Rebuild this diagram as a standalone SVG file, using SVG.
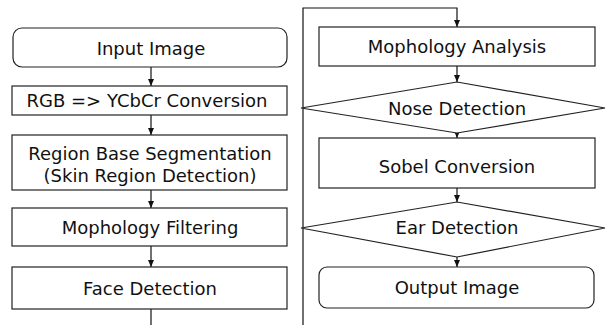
<svg xmlns="http://www.w3.org/2000/svg" width="610" height="325" viewBox="0 0 610 325">
<defs>
<marker id="ah" markerWidth="8" markerHeight="8" refX="7" refY="4" orient="auto" markerUnits="userSpaceOnUse">
<path d="M0,1 L7,4 L0,7 Z" fill="#111"/>
</marker>
<style>
.n{fill:#fff;stroke:#222;stroke-width:1.2}
.t{font-family:"DejaVu Sans","Liberation Sans",Arial,sans-serif;font-size:18px;fill:#111;text-anchor:middle}
.c{fill:none;stroke:#111;stroke-width:1.2}
</style>
</defs>
<rect width="610" height="325" fill="#fff"/>
<g id="connectors">
<line class="c" x1="151" y1="67" x2="151" y2="86" marker-end="url(#ah)"/>
<line class="c" x1="151" y1="115" x2="151" y2="135" marker-end="url(#ah)"/>
<line class="c" x1="151" y1="190" x2="151" y2="208" marker-end="url(#ah)"/>
<line class="c" x1="151" y1="246" x2="151" y2="267" marker-end="url(#ah)"/>
<line class="c" x1="151" y1="309" x2="151" y2="325"/>
<polyline class="c" points="303,325 303,8 457,8 457,27" marker-end="url(#ah)"/>
<line class="c" x1="457" y1="66" x2="457" y2="82" marker-end="url(#ah)"/>
<line class="c" x1="457" y1="133" x2="457" y2="138" marker-end="url(#ah)"/>
<line class="c" x1="457" y1="188" x2="457" y2="202" marker-end="url(#ah)"/>
<line class="c" x1="457" y1="257" x2="457" y2="267" marker-end="url(#ah)"/>
</g>
<g id="input">
<rect class="n" x="13" y="28" width="274" height="39" rx="9"/>
<text class="t" x="151" y="55">Input Image</text>
</g>
<g id="rgb">
<rect class="n" x="12" y="86" width="275" height="29"/>
<text class="t" x="147" y="107">RGB =&gt; YCbCr Conversion</text>
</g>
<g id="region">
<rect class="n" x="12" y="135" width="275" height="55"/>
<text class="t" x="150" y="160">Region Base Segmentation</text>
<text class="t" x="150" y="182">(Skin Region Detection)</text>
</g>
<g id="filtering">
<rect class="n" x="12" y="208" width="275" height="38"/>
<text class="t" x="150" y="234">Mophology Filtering</text>
</g>
<g id="face">
<rect class="n" x="12" y="267" width="275" height="42"/>
<text class="t" x="150" y="295">Face Detection</text>
</g>
<g id="analysis">
<rect class="n" x="319" y="27" width="276" height="39"/>
<text class="t" x="457" y="53">Mophology Analysis</text>
</g>
<g id="nose">
<polygon class="n" points="457,82 605,108 457,133 301,108"/>
<text class="t" x="457" y="115">Nose Detection</text>
</g>
<g id="sobel">
<rect class="n" x="319" y="138" width="276" height="50"/>
<text class="t" x="457" y="173">Sobel Conversion</text>
</g>
<g id="ear">
<polygon class="n" points="457,202 605,228 457,257 301,228"/>
<text class="t" x="457" y="234">Ear Detection</text>
</g>
<g id="output">
<rect class="n" x="319" y="267" width="275" height="41" rx="8"/>
<text class="t" x="457" y="294">Output Image</text>
</g>
</svg>
